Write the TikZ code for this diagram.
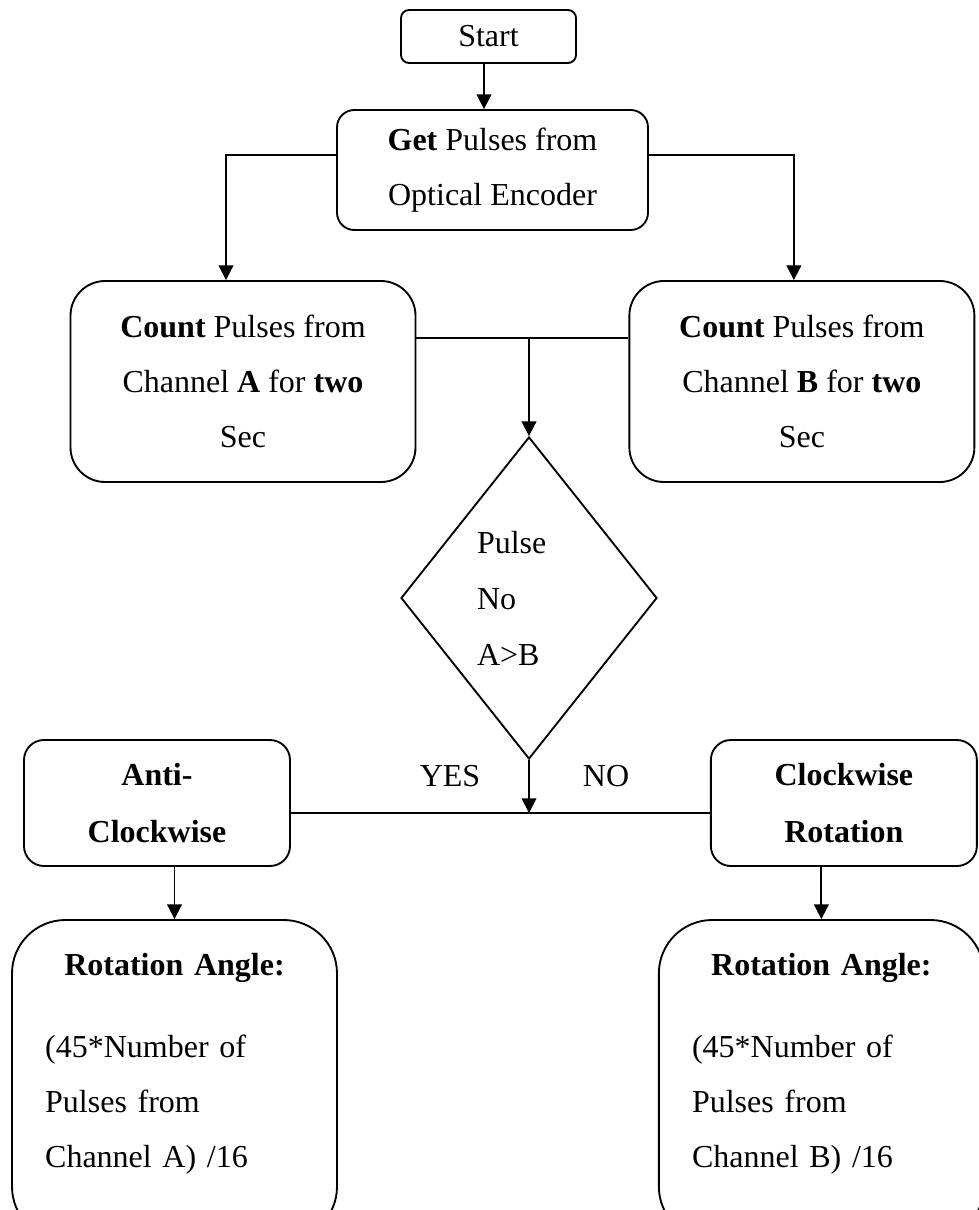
\documentclass[tikz,border=0pt]{standalone}
\usepackage{fontspec}
\setmainfont{Liberation Serif}
\usepackage{tikz}
\usetikzlibrary{positioning,shapes.geometric,arrows.meta}

\begin{document}
\begin{tikzpicture}[
  x=0.75pt, y=-0.75pt,
  line width=1.4pt,
  >={Triangle[length=11pt,width=11pt]},
  every node/.style={font=\fontsize{24}{41.25}\selectfont, inner sep=0pt},
  startbox/.style={rectangle, rounded corners=6pt, draw, minimum width=131.25pt, minimum height=39.75pt},
  getbox/.style={rectangle, rounded corners=13pt, draw, align=center, minimum width=233.25pt, minimum height=90pt},
  countbox/.style={rectangle, rounded corners=26pt, draw, align=center, minimum width=258.75pt, minimum height=150.75pt},
  decision/.style={diamond, draw, align=left, text width=78pt, minimum width=192pt, minimum height=241.5pt, font=\fontsize{24}{42}\selectfont},
  dirbox/.style={rectangle, rounded corners=15pt, draw, align=center, minimum width=199.5pt, minimum height=94.5pt, font=\fontsize{24}{42.75}\selectfont\bfseries},
  resultbox/.style={rectangle, rounded corners=40pt, draw, align=left, text width=194pt, minimum width=243.75pt, minimum height=240pt}
  ]
\useasboundingbox (0,0) rectangle (978,1210);

\node[startbox] (start) at (488.5,36.5) {Start};
\node[getbox] (get) at (492.5,170) {\textbf{Get} Pulses from\\Optical Encoder};
\node[countbox] (countA) at (243,381.5) {\textbf{Count} Pulses from\\Channel \textbf{A} for \textbf{two}\\Sec};
\node[countbox, right=159pt of countA] (countB) {\textbf{Count} Pulses from\\Channel \textbf{B} for \textbf{two}\\Sec};
\node[decision] (dec) at (529,598) {Pulse\\No\\A>B};
\node[dirbox] (anti) at (157,803) {Anti-\\Clockwise};
\node[dirbox, right=314.25pt of anti] (cw) {Clockwise\\Rotation};
\node[resultbox] (rotA) at (174.5,1080) {{\centering\textbf{Rotation Angle:}\par}\vspace{20pt}(45*Number of\\Pulses from\\Channel A) /16\rule[-29pt]{0pt}{29pt}};
\node[resultbox, right=240pt of rotA] (rotB) {{\centering\textbf{Rotation Angle:}\par}\vspace{20pt}(45*Number of\\Pulses from\\Channel B) /16\rule[-29pt]{0pt}{29pt}};

\node (yes) at (450,776) {YES};
\node (no) at (606,776) {NO};

\coordinate (splitAB) at (529,338);
\coordinate (merge) at (529,813);

\draw[->] (start.south -| 484,0) -- (get.north -| 484,0);
\draw[->] ([yshift=11.25pt]get.west) -| ([xshift=-12.75pt]countA.north);
\draw[->] ([yshift=11.25pt]get.east) -| ([xshift=-6pt]countB.north);
\draw (countA.east |- splitAB) -- (countB.west |- splitAB);
\draw[->] (splitAB) -- (dec.north);
\draw[->] (dec.south) -- (merge);
\draw (anti.east |- merge) -- (cw.west |- merge);
\draw[->] (rotA.north |- anti.south) -- (rotA.north);
\draw[->] (rotB.north |- cw.south) -- (rotB.north);

\end{tikzpicture}
\end{document}
